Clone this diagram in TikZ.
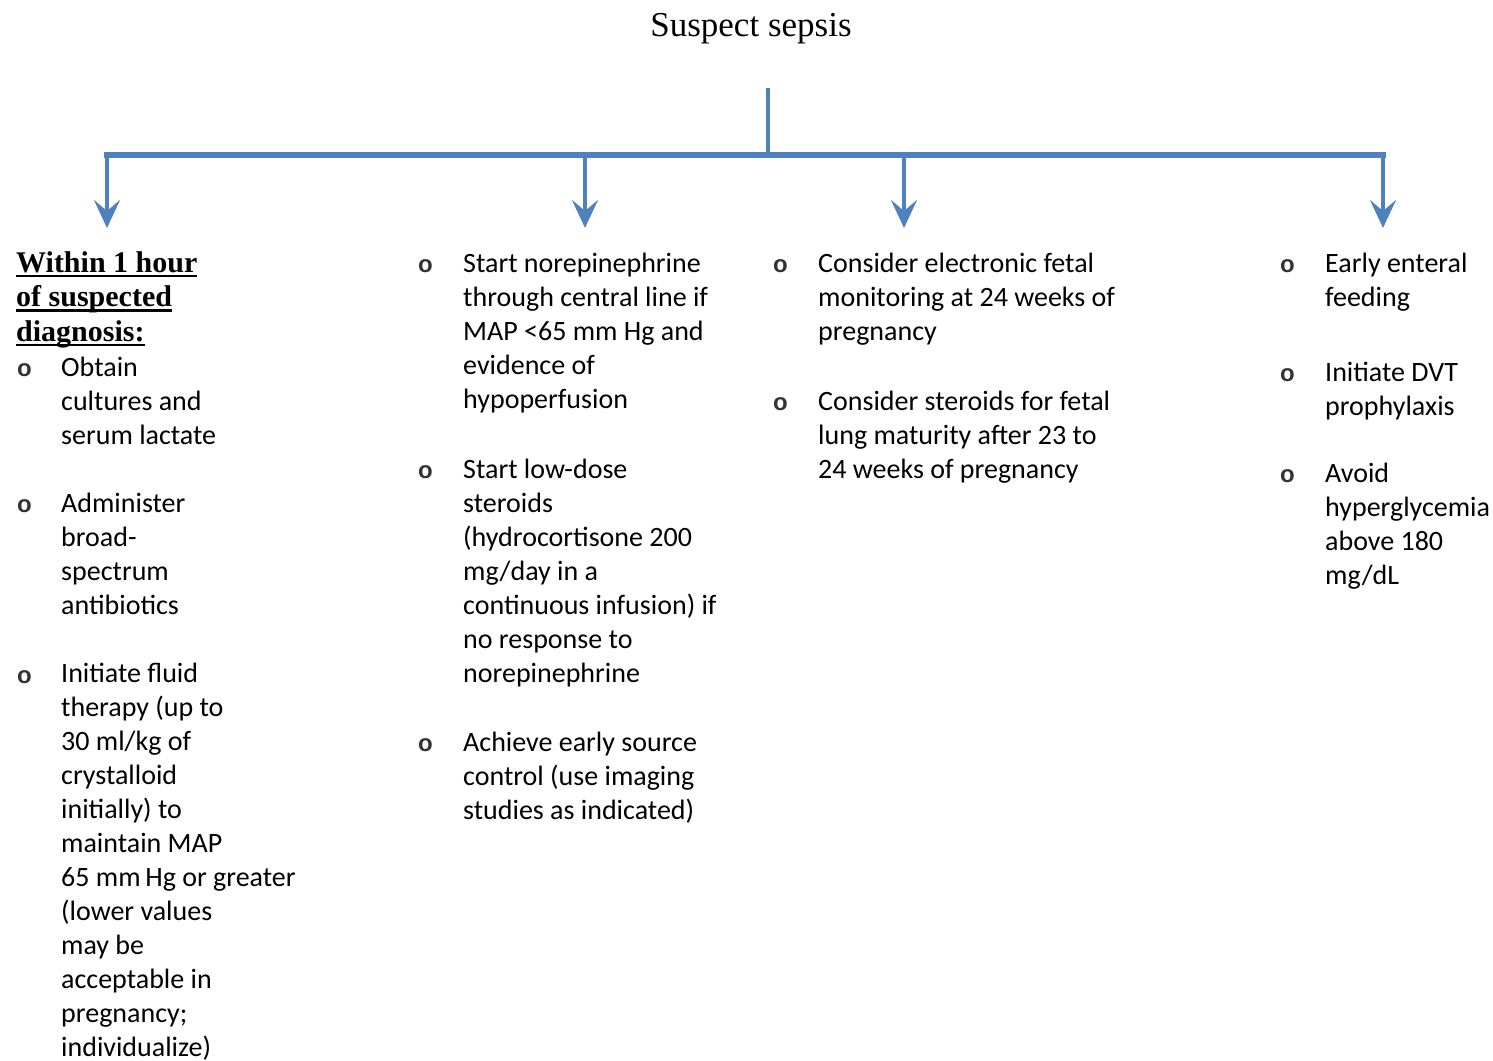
\documentclass[tikz,border=0pt]{standalone}
\usepackage{fontspec}
\setmainfont{Carlito}
\newfontfamily\tnr{Liberation Serif}
\newfontfamily\bulfont{Liberation Sans}
\usetikzlibrary{arrows.meta}
\definecolor{lineblue}{HTML}{4F81BD}
\newcommand\myul[1]{\setbox0\hbox{#1}\rlap{\rule[-5pt]{\wd0}{2.5pt}}\box0}
\newcommand\fl{\rule{0pt}{25pt}}
\begin{document}
\begin{tikzpicture}[x=1pt,y=-1pt,
  item/.style={anchor=north west, inner sep=0pt, align=left, font=\fontsize{28}{34}\selectfont},
  bul/.style={anchor=base west, inner sep=0pt, font=\bulfont\bfseries\fontsize{24}{34}\selectfont, text=black!80},
  conn/.style={draw=lineblue, line width=4.5pt},
  hbar/.style={draw=lineblue, line width=6pt, line cap=rect},
  arr/.style={draw=lineblue, line width=4.5pt, -{Stealth[length=28pt, width=26pt, inset=11pt]}}
]
\useasboundingbox (0,0) rectangle (1493,1060);

% title
\node[anchor=base, inner sep=0pt, font=\tnr\fontsize{35}{40}\selectfont] (title) at (751,36) {Suspect sepsis};

% connectors
\coordinate (s0) at (768,88);
\coordinate (j) at (768,155);
\coordinate (b1) at (107,155);
\coordinate (b2) at (585,155);
\coordinate (b3) at (904,155);
\coordinate (b4) at (1383,155);
\coordinate (e1) at (107,228);
\coordinate (e2) at (585,228);
\coordinate (e3) at (904,228);
\coordinate (e4) at (1383,228);
\draw[conn] (s0) -- (j);
\draw[hbar] (b1) -- (b4);
\draw[arr] (b1) -- (e1);
\draw[arr] (b2) -- (e2);
\draw[arr] (b3) -- (e3);
\draw[arr] (b4) -- (e4);

% column 1
\node[anchor=north west, inner sep=0pt, align=left, font=\tnr\bfseries\fontsize{30}{34.5}\selectfont] (head) at (16,247)
  {\fl\myul{Within 1 hour}\\\myul{of suspected}\\\myul{diagnosis:}};
\node[bul] (o1a) at (17,376) {o};
\node[item] (c1a) at (61,351) {\fl Obtain\\cultures and\\serum lactate};
\node[bul] (o1b) at (17,512) {o};
\node[item] (c1b) at (61,487) {\fl Administer\\broad-\\spectrum\\antibiotics};
\node[bul] (o1c) at (17,683) {o};
\node[item] (c1c) at (61,657) {\fl Initiate fluid\\therapy (up to\\30 ml/kg of\\crystalloid\\initially) to\\maintain MAP\\65 mm\,Hg or greater\\(lower values\\may be\\acceptable in\\pregnancy;\\individualize)};

% column 2
\node[bul] (o2a) at (418,272) {o};
\node[item] (c2a) at (463,247) {\fl Start norepinephrine\\through central line if\\MAP <65 mm Hg and\\evidence of\\hypoperfusion};
\node[bul] (o2b) at (418,478) {o};
\node[item] (c2b) at (463,453) {\fl Start low-dose\\steroids\\(hydrocortisone 200\\mg/day in a\\continuous infusion) if\\no response to\\norepinephrine};
\node[bul] (o2c) at (418,751) {o};
\node[item] (c2c) at (463,726) {\fl Achieve early source\\control (use imaging\\studies as indicated)};

% column 3
\node[bul] (o3a) at (773,272) {o};
\node[item] (c3a) at (818,247) {\fl Consider electronic fetal\\monitoring at 24 weeks of\\pregnancy};
\node[bul] (o3b) at (773,410) {o};
\node[item] (c3b) at (818,385) {\fl Consider steroids for fetal\\lung maturity after 23 to\\24 weeks of pregnancy};

% column 4
\node[bul] (o4a) at (1280,272) {o};
\node[item] (c4a) at (1325,247) {\fl Early enteral\\feeding};
\node[bul] (o4b) at (1280,381) {o};
\node[item] (c4b) at (1325,356) {\fl Initiate DVT\\prophylaxis};
\node[bul] (o4c) at (1280,482) {o};
\node[item] (c4c) at (1325,457) {\fl Avoid\\hyperglycemia\\above 180\\mg/dL};
\end{tikzpicture}
\end{document}
